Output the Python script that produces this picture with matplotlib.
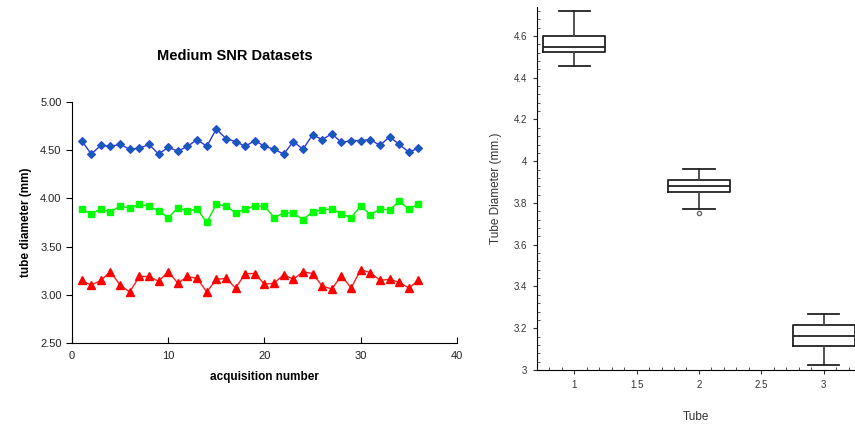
import numpy as np
import matplotlib.pyplot as plt
from matplotlib.ticker import MultipleLocator, FormatStrFormatter

plt.rcParams['font.family'] = ['Liberation Sans', 'DejaVu Sans']

# dados das aquisicoes (tubos 1, 2 e 3)
acquisition = np.arange(1, 37)

tube1 = [4.60, 4.46, 4.55, 4.54, 4.56, 4.51, 4.52, 4.56, 4.46, 4.53,
         4.49, 4.54, 4.61, 4.54, 4.72, 4.62, 4.59, 4.54, 4.60, 4.54,
         4.51, 4.46, 4.59, 4.51, 4.66, 4.61, 4.67, 4.58, 4.60, 4.60,
         4.61, 4.55, 4.64, 4.56, 4.48, 4.52]

tube2 = [3.89, 3.84, 3.89, 3.86, 3.92, 3.90, 3.94, 3.92, 3.87, 3.80,
         3.90, 3.87, 3.89, 3.75, 3.94, 3.92, 3.85, 3.89, 3.92, 3.92,
         3.80, 3.85, 3.85, 3.78, 3.86, 3.88, 3.89, 3.84, 3.80, 3.92,
         3.83, 3.89, 3.88, 3.97, 3.89, 3.94]

tube3 = [3.15, 3.10, 3.15, 3.24, 3.10, 3.03, 3.19, 3.19, 3.14, 3.24,
         3.12, 3.19, 3.17, 3.03, 3.16, 3.17, 3.07, 3.22, 3.22, 3.11,
         3.12, 3.21, 3.16, 3.24, 3.22, 3.09, 3.06, 3.20, 3.07, 3.26,
         3.23, 3.15, 3.16, 3.13, 3.07, 3.15]

# estatisticas do boxplot
box_pos = [1, 2, 3]
box_whislo = [4.458, 3.773, 3.025]
box_q1 = [4.522, 3.851, 3.113]
box_med = [4.547, 3.883, 3.163]
box_q3 = [4.600, 3.909, 3.214]
box_whishi = [4.720, 3.961, 3.270]
box_fliers = [[], [3.754], []]

fig = plt.figure(figsize=(8.55, 4.25), dpi=100)

# ---- grafico da esquerda ----
ax1 = fig.add_axes([0.0842, 0.193, 0.4503, 0.567])
ax1.plot(acquisition, tube1, '-D', color='#2a3ad8', lw=1, ms=4.3,
         mfc='#1060b0', mec='#2a48e0', mew=0.8)
ax1.plot(acquisition, tube2, '-s', color='#00ee00', lw=1, ms=4.3,
         mfc='#00ff00', mec='#00ff00')
ax1.plot(acquisition, tube3, '-^', color='#ff2020', lw=1, ms=5.2,
         mfc='#ff0000', mec='#ff0000')

ax1.set_xlim(0, 40)
ax1.set_ylim(2.5, 5.0)
ax1.set_xticks([0, 10, 20, 30, 40])
ax1.set_yticks([2.5, 3.0, 3.5, 4.0, 4.5, 5.0])
ax1.yaxis.set_major_formatter(FormatStrFormatter('%.2f'))
ax1.spines['top'].set_visible(False)
ax1.spines['right'].set_visible(False)
ax1.tick_params(axis='x', direction='in', length=4, labelsize=8, pad=6,
                labelcolor='#222222')
ax1.tick_params(axis='y', direction='out', length=4, labelsize=8,
                labelcolor='#222222')
ax1.set_xlabel('acquisition number', fontsize=8.5, fontweight='bold', labelpad=7)
ax1.set_ylabel('tube diameter (mm)', fontsize=8.5, fontweight='bold', labelpad=6)
fig.text(0.275, 0.868, 'Medium SNR Datasets', fontsize=10.5,
         fontweight='bold', ha='center', va='center')

# ---- grafico da direita ----
ax2 = fig.add_axes([0.6277, 0.1294, 0.3723, 0.8548])
stats = []
for i in range(3):
    stats.append({'med': box_med[i], 'q1': box_q1[i], 'q3': box_q3[i],
                  'whislo': box_whislo[i], 'whishi': box_whishi[i],
                  'fliers': box_fliers[i]})
ax2.bxp(stats, positions=box_pos, widths=0.5,
        boxprops=dict(color='#222222', lw=1.3),
        medianprops=dict(color='#222222', lw=1.3),
        whiskerprops=dict(color='#444444', lw=1.3),
        capprops=dict(color='#222222', lw=1.3),
        flierprops=dict(marker='o', ms=3, mfc='white', mec='#666666'))

ax2.set_xlim(0.7, 3.25)
ax2.set_ylim(3.0, 4.74)
ax2.set_xticks([1, 1.5, 2, 2.5, 3])
ax2.set_xticklabels(['1', '1.5', '2', '2.5', '3'])
ax2.set_yticks([3.0, 3.2, 3.4, 3.6, 3.8, 4.0, 4.2, 4.4, 4.6])
ax2.set_yticklabels(['3', '3.2', '3.4', '3.6', '3.8', '4', '4.2', '4.4', '4.6'])
ax2.xaxis.set_minor_locator(MultipleLocator(0.1))
ax2.yaxis.set_minor_locator(MultipleLocator(0.04))
ax2.spines['top'].set_visible(False)
ax2.spines['right'].set_visible(False)
ax2.tick_params(which='major', direction='out', length=3, labelsize=7,
                colors='#333333', pad=4)
ax2.tick_params(which='minor', direction='in', length=2, color='#333333')
ax2.set_xlabel('Tube', fontsize=8.5, color='#333333', labelpad=15)
ax2.set_ylabel('Tube Diameter (mm.)', fontsize=8.5, color='#333333', labelpad=8)

plt.savefig('out.png', dpi=100)
